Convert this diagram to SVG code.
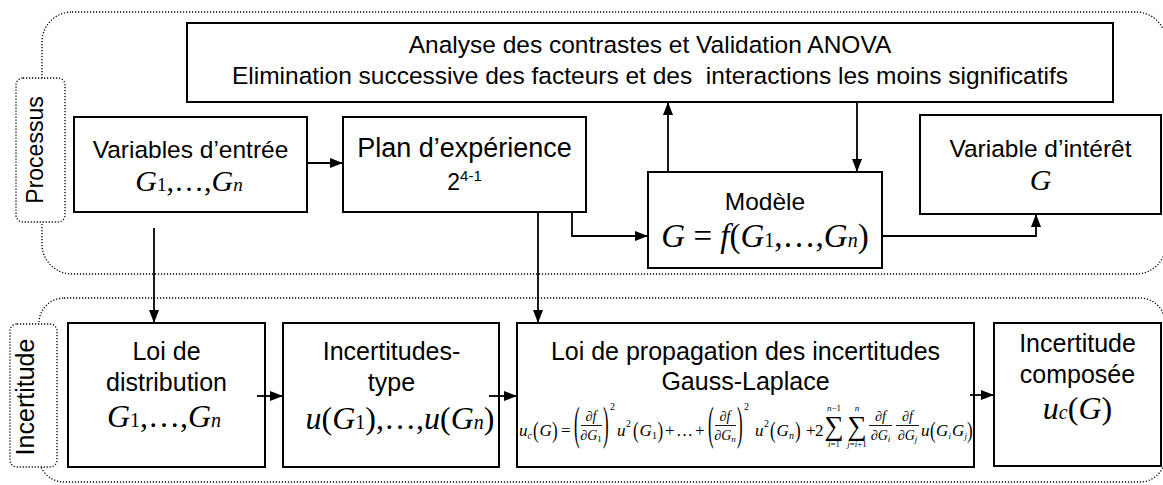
<svg xmlns="http://www.w3.org/2000/svg" width="1163" height="485" viewBox="0 0 1163 485">
<style>
.box{fill:#fff;stroke:#000;stroke-width:2}
.dot{fill:none;stroke:#000;stroke-width:1.3;stroke-dasharray:1.2 1.8}
.lbl{fill:#fff;stroke:#000;stroke-width:1.3;stroke-dasharray:1.2 1.8}
.t{font-family:"Liberation Sans",Arial,sans-serif;font-size:24.5px;fill:#000;text-anchor:middle}
.m{font-family:"Liberation Serif","Times New Roman",serif;font-size:32px;fill:#000;text-anchor:middle}
.i{font-style:italic}
.f{font-family:"Liberation Serif","Times New Roman",serif;font-size:17px;fill:#000}
.fm{text-anchor:middle;font-size:14px}
.lim{text-anchor:middle;font-size:9px}
.bar{stroke:#000;stroke-width:0.9}
.conn{fill:none;stroke:#000;stroke-width:1.8}
</style>
<defs>
<marker id="arr" markerUnits="userSpaceOnUse" markerWidth="13" markerHeight="10" refX="13" refY="5" orient="auto">
<path d="M0,0 L13,5 L0,10 z" fill="#000"/>
</marker>
</defs>
<rect width="1163" height="485" fill="#fff"/>

<g id="processus">
<rect class="dot" x="42" y="12" width="1124" height="262" rx="30"/>
<rect class="lbl" x="16" y="78" width="49" height="144" rx="7"/>
<text class="t" transform="translate(43,150) rotate(-90)" style="font-size:23px">Processus</text>
</g>
<g id="incertitude">
<rect class="dot" x="39" y="298" width="1126" height="184" rx="25"/>
<rect class="lbl" x="10" y="324" width="47" height="143" rx="7"/>
<text class="t" transform="translate(34,397) rotate(-90)" style="font-size:25px">Incertitude</text>
</g>

<g id="n-analyse">
<rect class="box" x="187" y="23" width="926" height="79"/>
<text class="t" x="650" y="53">Analyse des contrastes et Validation ANOVA</text>
<text class="t" x="650" y="84" xml:space="preserve">Elimination successive des facteurs et des  interactions les moins significatifs</text>
</g>

<g id="n-variables">
<rect class="box" x="74" y="117" width="233" height="95"/>
<text class="t" x="190.5" y="158">Variables d’entrée</text>
<text class="m" x="189" y="191" style="font-size:30px"><tspan class="i">G</tspan><tspan font-size="19">1</tspan>,…,<tspan class="i">G</tspan><tspan class="i" font-size="19">n</tspan></text>
</g>

<g id="n-plan">
<rect class="box" x="343" y="117" width="243" height="95"/>
<text class="t" x="464.5" y="157" style="font-size:27px">Plan d’expérience</text>
<text class="t" x="464.5" y="190" style="font-size:23px">2<tspan font-size="15" dy="-9">4-1</tspan></text>
</g>

<g id="n-modele">
<rect class="box" x="648" y="172" width="234" height="96"/>
<text class="t" x="765" y="210">Modèle</text>
<text class="m" x="765" y="247" style="font-size:33px"><tspan class="i">G</tspan> = <tspan class="i">f</tspan>(<tspan class="i">G</tspan><tspan font-size="20">1</tspan>,…,<tspan class="i">G</tspan><tspan class="i" font-size="20">n</tspan>)</text>
</g>

<g id="n-interet">
<rect class="box" x="920" y="115" width="241" height="99"/>
<text class="t" x="1040.5" y="157">Variable d’intérêt</text>
<text class="m i" x="1040.5" y="190" style="font-size:30px">G</text>
</g>

<g id="n-distribution">
<rect class="box" x="68" y="323" width="197" height="144"/>
<text class="t" x="166.5" y="360" style="font-size:25px">Loi de</text>
<text class="t" x="166.5" y="391" style="font-size:25px">distribution</text>
<text class="m" x="164" y="427"><tspan class="i">G</tspan><tspan font-size="20">1</tspan>,…,<tspan class="i">G</tspan><tspan class="i" font-size="20">n</tspan></text>
</g>

<g id="n-incert-type">
<rect class="box" x="283" y="323" width="216" height="144"/>
<text class="t" x="391.5" y="360" style="font-size:25px">Incertitudes-</text>
<text class="t" x="391.5" y="391" style="font-size:25px">type</text>
<text class="m" x="400" y="429"><tspan class="i">u</tspan>(<tspan class="i">G</tspan><tspan font-size="20">1</tspan>),…,<tspan class="i">u</tspan>(<tspan class="i">G</tspan><tspan class="i" font-size="20">n</tspan>)</text>
</g>

<g id="n-propagation">
<rect class="box" x="517" y="323" width="457" height="144"/>
<text class="t" x="745.5" y="360" style="font-size:25px">Loi de propagation des incertitudes</text>
<text class="t" x="745.5" y="390" style="font-size:25px">Gauss-Laplace</text>
<g class="f">
<text class="i" x="519" y="436">u</text>
<text class="i" x="527.5" y="439" font-size="10">c</text>
<text transform="translate(533,432) scale(1,1.4)" y="4.3">(</text>
<text class="i" x="539.5" y="436">G</text>
<text transform="translate(552,432) scale(1,1.4)" y="4.3">)</text>
<text x="561" y="436">=</text>
<text transform="translate(574,427) scale(1,2.7)" y="4.3">(</text>
<text class="fm" x="591" y="421">∂<tspan class="i">f</tspan></text>
<line class="bar" x1="581" y1="425.5" x2="602" y2="425.5"/>
<text class="fm" x="591" y="440">∂<tspan class="i">G</tspan><tspan font-size="9" dy="2">1</tspan></text>
<text transform="translate(603,427) scale(1,2.7)" y="4.3">)</text>
<text x="610" y="410" font-size="10">2</text>
<text class="i" x="617" y="436">u</text>
<text x="626" y="427" font-size="10">2</text>
<text transform="translate(633,432) scale(1,1.4)" y="4.3">(</text>
<text class="i" x="639.5" y="436">G</text>
<text x="652" y="439" font-size="10">1</text>
<text transform="translate(657.5,432) scale(1,1.4)" y="4.3">)</text>
<text x="665" y="436">+</text>
<text x="676" y="436">…</text>
<text x="695" y="436">+</text>
<text transform="translate(708,427) scale(1,2.7)" y="4.3">(</text>
<text class="fm" x="725" y="421">∂<tspan class="i">f</tspan></text>
<line class="bar" x1="715" y1="425.5" x2="736" y2="425.5"/>
<text class="fm" x="725" y="440">∂<tspan class="i">G</tspan><tspan class="i" font-size="9" dy="2">n</tspan></text>
<text transform="translate(737,427) scale(1,2.7)" y="4.3">)</text>
<text x="744" y="410" font-size="10">2</text>
<text class="i" x="755" y="436">u</text>
<text x="764" y="427" font-size="10">2</text>
<text transform="translate(770,432) scale(1,1.4)" y="4.3">(</text>
<text class="i" x="776.5" y="436">G</text>
<text class="i" x="789" y="439" font-size="10">n</text>
<text transform="translate(795,432) scale(1,1.4)" y="4.3">)</text>
<text x="806" y="436">+</text>
<text x="815" y="436">2</text>
<text x="834" y="435" text-anchor="middle" font-size="27">∑</text>
<text class="lim" x="834" y="411"><tspan class="i">n</tspan>−1</text>
<text class="lim" x="834" y="447"><tspan class="i">i</tspan>=1</text>
<text x="857" y="435" text-anchor="middle" font-size="27">∑</text>
<text class="lim i" x="857" y="411">n</text>
<text class="lim" x="857" y="447"><tspan class="i">j</tspan>=<tspan class="i">i</tspan>+1</text>
<text class="fm" x="880.5" y="421">∂<tspan class="i">f</tspan></text>
<line class="bar" x1="869" y1="425.5" x2="892" y2="425.5"/>
<text class="fm" x="880.5" y="440">∂<tspan class="i">G</tspan><tspan class="i" font-size="9" dy="2">i</tspan></text>
<text class="fm" x="907.5" y="421">∂<tspan class="i">f</tspan></text>
<line class="bar" x1="896" y1="425.5" x2="919" y2="425.5"/>
<text class="fm" x="907.5" y="440">∂<tspan class="i">G</tspan><tspan class="i" font-size="9" dy="2">j</tspan></text>
<text class="i" x="921" y="436">u</text>
<text transform="translate(930,432) scale(1,1.4)" y="4.3">(</text>
<text class="i" x="936" y="436">G</text>
<text class="i" x="948.5" y="439" font-size="9">i</text>
<text class="i" x="952" y="436">G</text>
<text class="i" x="964.5" y="439" font-size="9">j</text>
<text transform="translate(967,432) scale(1,1.4)" y="4.3">)</text>
</g>
</g>

<g id="n-composee">
<rect class="box" x="994" y="323" width="167" height="143"/>
<text class="t" x="1077.5" y="352" style="font-size:25px">Incertitude</text>
<text class="t" x="1077.5" y="383" style="font-size:25px">composée</text>
<text class="m" x="1077.5" y="419"><tspan class="i">u</tspan><tspan class="i" font-size="20">c</tspan>(<tspan class="i">G</tspan>)</text>
</g>

<g id="connectors" class="conn" marker-end="url(#arr)">
<path d="M307,163 H343"/>
<path d="M154,228 V323"/>
<path d="M538,213 V323"/>
<path d="M572,213 V236 H648"/>
<path d="M668,172 V102"/>
<path d="M857,102 V172"/>
<path d="M882,236 H1036 V214"/>
<path d="M257,396 H283"/>
<path d="M489,396 H517"/>
<path d="M970,395 H994"/>
</g>
</svg>
